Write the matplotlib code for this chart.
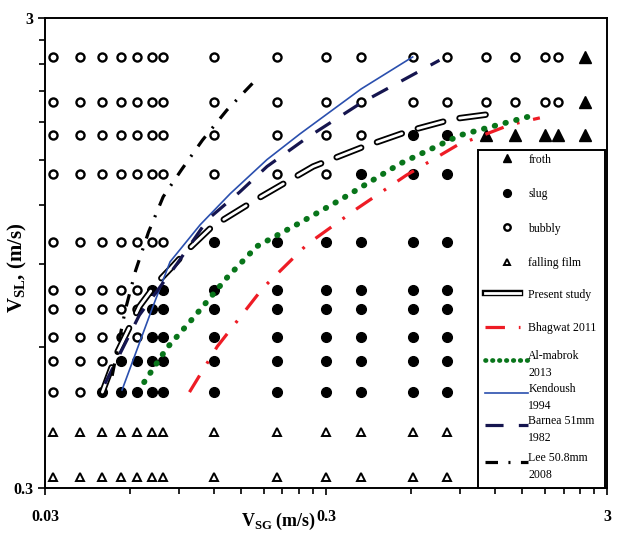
import matplotlib
matplotlib.use('Agg')
matplotlib.rcParams.update({
	"font.family": "Liberation Serif",
	"mathtext.fontset": "custom",
	"mathtext.rm": "Liberation Serif",
	"mathtext.bf": "Liberation Serif:bold",
	"lines.scale_dashes": False,
})
from matplotlib import pyplot as plt
from matplotlib import ticker as tkr
from matplotlib import patheffects as pe
from matplotlib.patches import Rectangle

# experimental grid: gas superficial velocity columns, liquid superficial velocity rows
vsg_cols = [0.032, 0.04, 0.048, 0.056, 0.064, 0.072, 0.079, 0.12, 0.20, 0.30,
	0.40, 0.61, 0.81, 1.11, 1.41, 1.81, 2.0, 2.5]
vsl_rows = [2.48, 1.99, 1.69, 1.40, 1.00, 0.79, 0.72, 0.63, 0.56, 0.48, 0.395, 0.317]
# o bubbly, s slug, f froth, t falling film, . no point
regime_rows = [
	"ooooooooooooooooof",
	"ooooooooooooooooof",
	"ooooooooooossfffff",
	"oooooooooosss.....",
	"ooooooossssss.....",
	"ooooossssssss.....",
	"ooooossssssss.....",
	"ooooossssssss.....",
	"ooossssssssss.....",
	"oosssssssssss.....",
	"ttttttttttttt.....",
	"ttttttttttttt.....",
]

# transition boundaries
present_vsg = [0.048, 0.054, 0.060, 0.065, 0.075, 0.084, 0.096, 0.118, 0.168, 0.27, 0.40, 0.60, 0.85, 1.12]
present_vsl = [0.48, 0.58, 0.66, 0.73, 0.82, 0.88, 0.96, 1.08, 1.23, 1.45, 1.59, 1.73, 1.83, 1.87]
bhagwat_vsg = [0.098, 0.123, 0.179, 0.257, 0.387, 0.58, 0.88, 1.36, 1.73]
bhagwat_vsl = [0.48, 0.60, 0.80, 0.99, 1.18, 1.39, 1.61, 1.78, 1.84]
almabrok_vsg = [0.0676, 0.0815, 0.101, 0.133, 0.170, 0.242, 0.336, 0.55, 0.90, 1.57]
almabrok_vsl = [0.504, 0.596, 0.69, 0.84, 0.98, 1.10, 1.23, 1.47, 1.69, 1.85]
kendoush_vsg = [0.0564, 0.072, 0.0836, 0.107, 0.137, 0.185, 0.242, 0.40, 0.61]
kendoush_vsl = [0.485, 0.72, 0.909, 1.09, 1.27, 1.50, 1.70, 2.12, 2.48]
barnea_vsg = [0.049, 0.0555, 0.065, 0.0885, 0.114, 0.148, 0.185, 0.257, 0.40, 0.76]
barnea_vsl = [0.50, 0.58, 0.70, 0.90, 1.12, 1.28, 1.45, 1.67, 1.98, 2.44]
lee_vsg = [0.052, 0.058, 0.063, 0.070, 0.079, 0.092, 0.109, 0.133, 0.168]
lee_vsl = [0.52, 0.72, 0.87, 1.05, 1.25, 1.43, 1.65, 1.91, 2.21]

regime_names = {'f': 'froth', 's': 'slug', 'o': 'bubbly', 't': 'falling film'}
marker_styles = {
	'f': dict(marker='^', ms=8, mfc='k', mec='k', mew=1.0),
	's': dict(marker='o', ms=7, mfc='k', mec='k', mew=1.0),
	'o': dict(marker='o', ms=5.8, mfc='white', mec='k', mew=1.7),
	't': dict(marker='^', ms=6, mfc='white', mec='k', mew=1.4),
}
line_styles = {
	'Present study': dict(color='white', lw=2.0, dashes=(19, 12), dash_capstyle='round',
		path_effects=[pe.Stroke(linewidth=4.6, foreground='black'), pe.Normal()]),
	'Bhagwat 2011': dict(color='#ee1c25', lw=2.3, dashes=(14, 10, 2, 10)),
	'Al-mabrok\n2013': dict(color='#08751a', lw=4.2, dashes=(0.4, 7.6), dash_capstyle='round'),
	'Kendoush\n1994': dict(color='#2a4fae', lw=1.2),
	'Barnea 51mm\n1982': dict(color='#15154f', lw=2.3, dashes=(13, 11)),
	'Lee 50.8mm\n2008': dict(color='black', lw=2.3, dashes=(9, 7.5, 1.5, 7.5)),
}
curves = [
	('Present study', present_vsg, present_vsl),
	('Bhagwat 2011', bhagwat_vsg, bhagwat_vsl),
	('Al-mabrok\n2013', almabrok_vsg, almabrok_vsl),
	('Kendoush\n1994', kendoush_vsg, kendoush_vsl),
	('Barnea 51mm\n1982', barnea_vsg, barnea_vsl),
	('Lee 50.8mm\n2008', lee_vsg, lee_vsl),
]

fig = plt.figure(figsize=(6.2, 5.34), dpi=100)
ax = fig.add_axes([0.0726, 0.0861, 0.9065, 0.880])
ax.set_xscale('log')
ax.set_yscale('log')

for code in 'fsot':
	xs, ys = [], []
	for vsl, row in zip(vsl_rows, regime_rows):
		for vsg, c in zip(vsg_cols, row):
			if c == code:
				xs.append(vsg)
				ys.append(vsl)
	ax.plot(xs, ys, ls='none', zorder=2, **marker_styles[code])

for name, xs, ys in curves:
	ax.plot(xs, ys, zorder=3, **line_styles[name])

ax.set_xlim(0.03, 3)
ax.set_ylim(0.3, 3)
ax.xaxis.set_major_locator(tkr.FixedLocator([0.03, 0.3, 3]))
ax.xaxis.set_major_formatter(tkr.FixedFormatter(['0.03', '0.3', '3']))
ax.xaxis.set_minor_locator(tkr.FixedLocator([0.03 * k for k in range(2, 10)] + [0.3 * k for k in range(2, 10)]))
ax.xaxis.set_minor_formatter(tkr.NullFormatter())
ax.yaxis.set_major_locator(tkr.FixedLocator([0.3, 3]))
ax.yaxis.set_major_formatter(tkr.FixedFormatter(['0.3', '3']))
ax.yaxis.set_minor_locator(tkr.FixedLocator([0.3 * k for k in range(2, 10)]))
ax.yaxis.set_minor_formatter(tkr.NullFormatter())
ax.tick_params(which='both', direction='out', width=1.2, labelsize=11.5)
ax.tick_params(which='major', length=5)
ax.tick_params(which='minor', length=4)
ax.tick_params(axis='x', pad=10)
plt.setp(ax.get_xticklabels() + ax.get_yticklabels(), fontweight='bold')
for sp in ax.spines.values():
	sp.set_linewidth(1.4)

ax.set_xlabel(r'$\mathbf{V}_{\mathbf{SG}}$ (m/s)', fontsize=13, fontweight='bold')
ax.xaxis.set_label_coords(0.416, -0.048)
ax.set_ylabel(r'$\mathbf{V}_{\mathbf{SL}}$, (m/s)', fontsize=15, fontweight='bold')
ax.yaxis.set_label_coords(-0.028, 0.468)

# hand made legend, rows spaced evenly like the original
ax.add_patch(Rectangle((0.770, 0.0), 0.226, 0.719, transform=ax.transAxes,
	facecolor='white', edgecolor='black', lw=1.4, zorder=5, clip_on=False))
marker_rows = [('f', 0.702), ('s', 0.628), ('o', 0.555), ('t', 0.481)]
line_rows = [0.415, 0.343, 0.272, 0.202, 0.134, 0.055]
text_x = 0.860
for code, y in marker_rows:
	ax.plot([0.822], [y], transform=ax.transAxes, ls='none', zorder=6, clip_on=False,
		**dict(marker_styles[code], ms=marker_styles[code]['ms'] * 0.8))
	ax.text(text_x, y, regime_names[code], transform=ax.transAxes, fontsize=8.5,
		va='center_baseline', zorder=6)
for (name, xs, ys), y in zip(curves, line_rows):
	style = dict(line_styles[name])
	x1 = 0.845
	if name == 'Present study':
		style.pop('dashes')
	if name.startswith('Al-mabrok'):
		style['dashes'] = (0.4, 4.6)
		style['lw'] = 3.4
	if '\n' in name:
		x1 = 0.859
	ax.plot([0.783, x1], [y, y], transform=ax.transAxes, zorder=6, clip_on=False, **style)
	ax.text(text_x, y, name, transform=ax.transAxes, fontsize=8.5, linespacing=1.55,
		va='center_baseline', zorder=6)

fig.savefig('out.png', dpi=100)
